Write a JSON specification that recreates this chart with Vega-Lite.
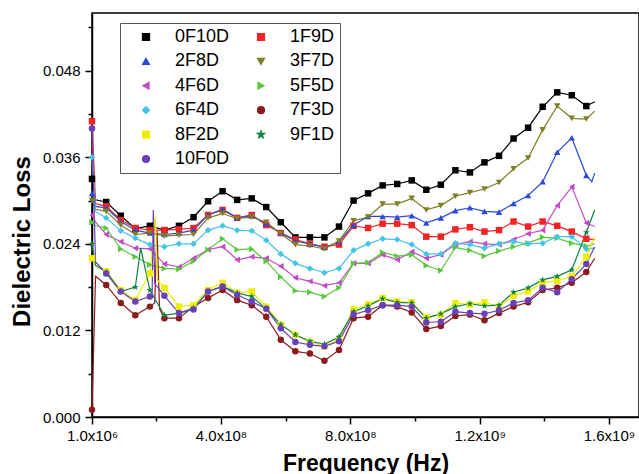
{
"$schema": "https://vega.github.io/schema/vega-lite/v6.json",
"width": 547, "height": 404,
"autosize": "none",
"padding": {"left": 92, "top": 13, "right": 0, "bottom": 57},
"background": "white",
"config": {
 "view": {"stroke": "black", "strokeWidth": 1.5},
 "axis": {"grid": false, "domainColor": "black", "tickColor": "black", "labelColor": "black", "titleColor": "black", "labelFont": "Liberation Sans", "titleFont": "Liberation Sans", "domainWidth": 1.5, "tickWidth": 1.5, "labelFlush": false, "labelOverlap": false},
 "legend": {"title": null, "orient": "none", "legendX": 28, "legendY": 10, "columns": 2, "direction": "horizontal", "padding": 5,
       "strokeColor": "#555555", "fillColor": "white", "symbolSize": 49, "symbolStrokeWidth": 1.2, "symbolOffset": 12,
       "labelOffset": 20, "labelFontSize": 18, "labelFont": "Liberation Sans", "labelColor": "black",
       "rowPadding": 6.4, "columnPadding": 10}
},
"data": {"values": [
{"s":"0F10D","f":1e6,"v":0.0330,"m":1},{"s":"0F10D","f":1.2e7,"v":0.0301,"m":0},{"s":"0F10D","f":4.5e7,"v":0.0298,"m":1},{"s":"0F10D","f":9e7,"v":0.0279,"m":1},{"s":"0F10D","f":1.35e8,"v":0.0261,"m":1},{"s":"0F10D","f":1.8e8,"v":0.0265,"m":1},{"s":"0F10D","f":2.25e8,"v":0.0259,"m":1},{"s":"0F10D","f":2.7e8,"v":0.0265,"m":1},{"s":"0F10D","f":3.15e8,"v":0.0277,"m":1},{"s":"0F10D","f":3.6e8,"v":0.0299,"m":1},{"s":"0F10D","f":4.05e8,"v":0.0313,"m":1},{"s":"0F10D","f":4.5e8,"v":0.0301,"m":1},{"s":"0F10D","f":4.95e8,"v":0.0303,"m":1},{"s":"0F10D","f":5.4e8,"v":0.0291,"m":1},{"s":"0F10D","f":5.85e8,"v":0.0270,"m":1},{"s":"0F10D","f":6.3e8,"v":0.0249,"m":1},{"s":"0F10D","f":6.75e8,"v":0.0249,"m":1},{"s":"0F10D","f":7.2e8,"v":0.0249,"m":1},{"s":"0F10D","f":7.65e8,"v":0.0264,"m":1},{"s":"0F10D","f":8.1e8,"v":0.0300,"m":1},{"s":"0F10D","f":8.55e8,"v":0.0310,"m":1},{"s":"0F10D","f":9e8,"v":0.0321,"m":1},{"s":"0F10D","f":9.45e8,"v":0.0323,"m":1},{"s":"0F10D","f":9.9e8,"v":0.0328,"m":1},{"s":"0F10D","f":1.035e9,"v":0.0315,"m":1},{"s":"0F10D","f":1.08e9,"v":0.0322,"m":1},{"s":"0F10D","f":1.125e9,"v":0.0342,"m":1},{"s":"0F10D","f":1.17e9,"v":0.0339,"m":1},{"s":"0F10D","f":1.215e9,"v":0.0353,"m":1},{"s":"0F10D","f":1.26e9,"v":0.0362,"m":1},{"s":"0F10D","f":1.305e9,"v":0.0386,"m":1},{"s":"0F10D","f":1.35e9,"v":0.0401,"m":1},{"s":"0F10D","f":1.395e9,"v":0.0430,"m":1},{"s":"0F10D","f":1.44e9,"v":0.0450,"m":1},{"s":"0F10D","f":1.485e9,"v":0.0446,"m":1},{"s":"0F10D","f":1.53e9,"v":0.0431,"m":1},{"s":"0F10D","f":1.556e9,"v":0.0437,"m":0},
{"s":"1F9D","f":1e6,"v":0.0410,"m":1},{"s":"1F9D","f":1.2e7,"v":0.0296,"m":0},{"s":"1F9D","f":4.5e7,"v":0.0292,"m":1},{"s":"1F9D","f":9e7,"v":0.0273,"m":1},{"s":"1F9D","f":1.35e8,"v":0.0262,"m":1},{"s":"1F9D","f":1.8e8,"v":0.0259,"m":1},{"s":"1F9D","f":2.25e8,"v":0.0259,"m":1},{"s":"1F9D","f":2.7e8,"v":0.0260,"m":1},{"s":"1F9D","f":3.15e8,"v":0.0262,"m":1},{"s":"1F9D","f":3.6e8,"v":0.0280,"m":1},{"s":"1F9D","f":4.05e8,"v":0.0287,"m":1},{"s":"1F9D","f":4.5e8,"v":0.0276,"m":1},{"s":"1F9D","f":4.95e8,"v":0.0280,"m":1},{"s":"1F9D","f":5.4e8,"v":0.0266,"m":1},{"s":"1F9D","f":5.85e8,"v":0.0255,"m":1},{"s":"1F9D","f":6.3e8,"v":0.0246,"m":1},{"s":"1F9D","f":6.75e8,"v":0.0240,"m":1},{"s":"1F9D","f":7.2e8,"v":0.0236,"m":1},{"s":"1F9D","f":7.65e8,"v":0.0239,"m":1},{"s":"1F9D","f":8.1e8,"v":0.0265,"m":1},{"s":"1F9D","f":8.55e8,"v":0.0262,"m":1},{"s":"1F9D","f":9e8,"v":0.0268,"m":1},{"s":"1F9D","f":9.45e8,"v":0.0268,"m":1},{"s":"1F9D","f":9.9e8,"v":0.0266,"m":1},{"s":"1F9D","f":1.035e9,"v":0.0250,"m":1},{"s":"1F9D","f":1.08e9,"v":0.0250,"m":1},{"s":"1F9D","f":1.125e9,"v":0.0260,"m":1},{"s":"1F9D","f":1.17e9,"v":0.0263,"m":1},{"s":"1F9D","f":1.215e9,"v":0.0257,"m":1},{"s":"1F9D","f":1.26e9,"v":0.0259,"m":1},{"s":"1F9D","f":1.305e9,"v":0.0271,"m":1},{"s":"1F9D","f":1.35e9,"v":0.0264,"m":1},{"s":"1F9D","f":1.395e9,"v":0.0271,"m":1},{"s":"1F9D","f":1.44e9,"v":0.0265,"m":1},{"s":"1F9D","f":1.485e9,"v":0.0257,"m":1},{"s":"1F9D","f":1.53e9,"v":0.0247,"m":1},{"s":"1F9D","f":1.556e9,"v":0.0246,"m":0},
{"s":"2F8D","f":1e6,"v":0.0310,"m":1},{"s":"2F8D","f":1.2e7,"v":0.0292,"m":0},{"s":"2F8D","f":4.5e7,"v":0.0290,"m":1},{"s":"2F8D","f":9e7,"v":0.0271,"m":1},{"s":"2F8D","f":1.35e8,"v":0.0259,"m":1},{"s":"2F8D","f":1.8e8,"v":0.0255,"m":1},{"s":"2F8D","f":2.25e8,"v":0.0253,"m":1},{"s":"2F8D","f":2.7e8,"v":0.0255,"m":1},{"s":"2F8D","f":3.15e8,"v":0.0259,"m":1},{"s":"2F8D","f":3.6e8,"v":0.0280,"m":1},{"s":"2F8D","f":4.05e8,"v":0.0288,"m":1},{"s":"2F8D","f":4.5e8,"v":0.0276,"m":1},{"s":"2F8D","f":4.95e8,"v":0.0279,"m":1},{"s":"2F8D","f":5.4e8,"v":0.0268,"m":1},{"s":"2F8D","f":5.85e8,"v":0.0255,"m":1},{"s":"2F8D","f":6.3e8,"v":0.0244,"m":1},{"s":"2F8D","f":6.75e8,"v":0.0240,"m":1},{"s":"2F8D","f":7.2e8,"v":0.0235,"m":1},{"s":"2F8D","f":7.65e8,"v":0.0243,"m":1},{"s":"2F8D","f":8.1e8,"v":0.0266,"m":1},{"s":"2F8D","f":8.55e8,"v":0.0278,"m":1},{"s":"2F8D","f":9e8,"v":0.0278,"m":1},{"s":"2F8D","f":9.45e8,"v":0.0277,"m":1},{"s":"2F8D","f":9.9e8,"v":0.0279,"m":1},{"s":"2F8D","f":1.035e9,"v":0.0269,"m":1},{"s":"2F8D","f":1.08e9,"v":0.0276,"m":1},{"s":"2F8D","f":1.125e9,"v":0.0286,"m":1},{"s":"2F8D","f":1.17e9,"v":0.0290,"m":1},{"s":"2F8D","f":1.215e9,"v":0.0285,"m":1},{"s":"2F8D","f":1.26e9,"v":0.0284,"m":1},{"s":"2F8D","f":1.305e9,"v":0.0296,"m":1},{"s":"2F8D","f":1.35e9,"v":0.0307,"m":1},{"s":"2F8D","f":1.395e9,"v":0.0326,"m":1},{"s":"2F8D","f":1.44e9,"v":0.0367,"m":1},{"s":"2F8D","f":1.485e9,"v":0.0387,"m":1},{"s":"2F8D","f":1.53e9,"v":0.0335,"m":1},{"s":"2F8D","f":1.547e9,"v":0.0326,"m":0},{"s":"2F8D","f":1.556e9,"v":0.0338,"m":0},
{"s":"3F7D","f":1e6,"v":0.0300,"m":1},{"s":"3F7D","f":1.2e7,"v":0.0288,"m":0},{"s":"3F7D","f":4.5e7,"v":0.0285,"m":1},{"s":"3F7D","f":9e7,"v":0.0266,"m":1},{"s":"3F7D","f":1.35e8,"v":0.0253,"m":1},{"s":"3F7D","f":1.8e8,"v":0.0255,"m":1},{"s":"3F7D","f":2.25e8,"v":0.0251,"m":1},{"s":"3F7D","f":2.7e8,"v":0.0252,"m":1},{"s":"3F7D","f":3.15e8,"v":0.0253,"m":1},{"s":"3F7D","f":3.6e8,"v":0.0276,"m":1},{"s":"3F7D","f":4.05e8,"v":0.0282,"m":1},{"s":"3F7D","f":4.5e8,"v":0.0275,"m":1},{"s":"3F7D","f":4.95e8,"v":0.0277,"m":1},{"s":"3F7D","f":5.4e8,"v":0.0270,"m":1},{"s":"3F7D","f":5.85e8,"v":0.0254,"m":1},{"s":"3F7D","f":6.3e8,"v":0.0239,"m":1},{"s":"3F7D","f":6.75e8,"v":0.0237,"m":1},{"s":"3F7D","f":7.2e8,"v":0.0233,"m":1},{"s":"3F7D","f":7.65e8,"v":0.0244,"m":1},{"s":"3F7D","f":8.1e8,"v":0.0272,"m":1},{"s":"3F7D","f":8.55e8,"v":0.0277,"m":1},{"s":"3F7D","f":9e8,"v":0.0295,"m":1},{"s":"3F7D","f":9.45e8,"v":0.0295,"m":1},{"s":"3F7D","f":9.9e8,"v":0.0303,"m":1},{"s":"3F7D","f":1.035e9,"v":0.0287,"m":1},{"s":"3F7D","f":1.08e9,"v":0.0293,"m":1},{"s":"3F7D","f":1.125e9,"v":0.0306,"m":1},{"s":"3F7D","f":1.17e9,"v":0.0311,"m":1},{"s":"3F7D","f":1.215e9,"v":0.0316,"m":1},{"s":"3F7D","f":1.26e9,"v":0.0325,"m":1},{"s":"3F7D","f":1.305e9,"v":0.0344,"m":1},{"s":"3F7D","f":1.35e9,"v":0.0359,"m":1},{"s":"3F7D","f":1.395e9,"v":0.0398,"m":1},{"s":"3F7D","f":1.44e9,"v":0.0431,"m":1},{"s":"3F7D","f":1.485e9,"v":0.0414,"m":1},{"s":"3F7D","f":1.53e9,"v":0.0413,"m":1},{"s":"3F7D","f":1.556e9,"v":0.0424,"m":0},
{"s":"4F6D","f":1e6,"v":0.0280,"m":1},{"s":"4F6D","f":1.2e7,"v":0.0270,"m":0},{"s":"4F6D","f":4.5e7,"v":0.0253,"m":1},{"s":"4F6D","f":9e7,"v":0.0243,"m":1},{"s":"4F6D","f":1.35e8,"v":0.0234,"m":1},{"s":"4F6D","f":1.8e8,"v":0.0233,"m":1},{"s":"4F6D","f":2.25e8,"v":0.0212,"m":1},{"s":"4F6D","f":2.7e8,"v":0.0208,"m":1},{"s":"4F6D","f":3.15e8,"v":0.0220,"m":1},{"s":"4F6D","f":3.6e8,"v":0.0232,"m":1},{"s":"4F6D","f":4.05e8,"v":0.0236,"m":1},{"s":"4F6D","f":4.5e8,"v":0.0218,"m":1},{"s":"4F6D","f":4.95e8,"v":0.0222,"m":1},{"s":"4F6D","f":5.4e8,"v":0.0220,"m":1},{"s":"4F6D","f":5.85e8,"v":0.0209,"m":1},{"s":"4F6D","f":6.3e8,"v":0.0193,"m":1},{"s":"4F6D","f":6.75e8,"v":0.0188,"m":1},{"s":"4F6D","f":7.2e8,"v":0.0182,"m":1},{"s":"4F6D","f":7.65e8,"v":0.0186,"m":1},{"s":"4F6D","f":8.1e8,"v":0.0213,"m":1},{"s":"4F6D","f":8.55e8,"v":0.0213,"m":1},{"s":"4F6D","f":9e8,"v":0.0225,"m":1},{"s":"4F6D","f":9.45e8,"v":0.0218,"m":1},{"s":"4F6D","f":9.9e8,"v":0.0229,"m":1},{"s":"4F6D","f":1.035e9,"v":0.0220,"m":1},{"s":"4F6D","f":1.08e9,"v":0.0225,"m":1},{"s":"4F6D","f":1.125e9,"v":0.0239,"m":1},{"s":"4F6D","f":1.17e9,"v":0.0243,"m":1},{"s":"4F6D","f":1.215e9,"v":0.0240,"m":1},{"s":"4F6D","f":1.26e9,"v":0.0239,"m":1},{"s":"4F6D","f":1.305e9,"v":0.0246,"m":1},{"s":"4F6D","f":1.35e9,"v":0.0254,"m":1},{"s":"4F6D","f":1.395e9,"v":0.0259,"m":1},{"s":"4F6D","f":1.44e9,"v":0.0293,"m":1},{"s":"4F6D","f":1.485e9,"v":0.0319,"m":1},{"s":"4F6D","f":1.53e9,"v":0.0269,"m":1},{"s":"4F6D","f":1.556e9,"v":0.0264,"m":0},
{"s":"5F5D","f":1e6,"v":0.0270,"m":1},{"s":"5F5D","f":1.2e7,"v":0.0265,"m":0},{"s":"5F5D","f":4.5e7,"v":0.0262,"m":1},{"s":"5F5D","f":9e7,"v":0.0233,"m":1},{"s":"5F5D","f":1.35e8,"v":0.0222,"m":1},{"s":"5F5D","f":1.8e8,"v":0.0211,"m":1},{"s":"5F5D","f":2.25e8,"v":0.0206,"m":1},{"s":"5F5D","f":2.7e8,"v":0.0205,"m":1},{"s":"5F5D","f":3.15e8,"v":0.0216,"m":1},{"s":"5F5D","f":3.6e8,"v":0.0232,"m":1},{"s":"5F5D","f":4.05e8,"v":0.0247,"m":1},{"s":"5F5D","f":4.5e8,"v":0.0232,"m":1},{"s":"5F5D","f":4.95e8,"v":0.0233,"m":1},{"s":"5F5D","f":5.4e8,"v":0.0216,"m":1},{"s":"5F5D","f":5.85e8,"v":0.0194,"m":1},{"s":"5F5D","f":6.3e8,"v":0.0175,"m":1},{"s":"5F5D","f":6.75e8,"v":0.0173,"m":1},{"s":"5F5D","f":7.2e8,"v":0.0167,"m":1},{"s":"5F5D","f":7.65e8,"v":0.0179,"m":1},{"s":"5F5D","f":8.1e8,"v":0.0213,"m":1},{"s":"5F5D","f":8.55e8,"v":0.0214,"m":1},{"s":"5F5D","f":9e8,"v":0.0228,"m":1},{"s":"5F5D","f":9.45e8,"v":0.0223,"m":1},{"s":"5F5D","f":9.9e8,"v":0.0225,"m":1},{"s":"5F5D","f":1.035e9,"v":0.0210,"m":1},{"s":"5F5D","f":1.08e9,"v":0.0203,"m":1},{"s":"5F5D","f":1.125e9,"v":0.0235,"m":1},{"s":"5F5D","f":1.17e9,"v":0.0231,"m":1},{"s":"5F5D","f":1.215e9,"v":0.0223,"m":1},{"s":"5F5D","f":1.26e9,"v":0.0230,"m":1},{"s":"5F5D","f":1.305e9,"v":0.0236,"m":1},{"s":"5F5D","f":1.35e9,"v":0.0241,"m":1},{"s":"5F5D","f":1.395e9,"v":0.0249,"m":1},{"s":"5F5D","f":1.44e9,"v":0.0248,"m":1},{"s":"5F5D","f":1.485e9,"v":0.0241,"m":1},{"s":"5F5D","f":1.53e9,"v":0.0237,"m":1},{"s":"5F5D","f":1.556e9,"v":0.0240,"m":0},
{"s":"6F4D","f":1e6,"v":0.0360,"m":1},{"s":"6F4D","f":1.2e7,"v":0.0285,"m":0},{"s":"6F4D","f":4.5e7,"v":0.0276,"m":1},{"s":"6F4D","f":9e7,"v":0.0258,"m":1},{"s":"6F4D","f":1.35e8,"v":0.0248,"m":1},{"s":"6F4D","f":1.8e8,"v":0.0239,"m":1},{"s":"6F4D","f":2.25e8,"v":0.0236,"m":1},{"s":"6F4D","f":2.7e8,"v":0.0240,"m":1},{"s":"6F4D","f":3.15e8,"v":0.0240,"m":1},{"s":"6F4D","f":3.6e8,"v":0.0259,"m":1},{"s":"6F4D","f":4.05e8,"v":0.0265,"m":1},{"s":"6F4D","f":4.5e8,"v":0.0259,"m":1},{"s":"6F4D","f":4.95e8,"v":0.0258,"m":1},{"s":"6F4D","f":5.4e8,"v":0.0245,"m":1},{"s":"6F4D","f":5.85e8,"v":0.0226,"m":1},{"s":"6F4D","f":6.3e8,"v":0.0213,"m":1},{"s":"6F4D","f":6.75e8,"v":0.0206,"m":1},{"s":"6F4D","f":7.2e8,"v":0.0200,"m":1},{"s":"6F4D","f":7.65e8,"v":0.0206,"m":1},{"s":"6F4D","f":8.1e8,"v":0.0231,"m":1},{"s":"6F4D","f":8.55e8,"v":0.0240,"m":1},{"s":"6F4D","f":9e8,"v":0.0247,"m":1},{"s":"6F4D","f":9.45e8,"v":0.0246,"m":1},{"s":"6F4D","f":9.9e8,"v":0.0239,"m":1},{"s":"6F4D","f":1.035e9,"v":0.0226,"m":1},{"s":"6F4D","f":1.08e9,"v":0.0226,"m":1},{"s":"6F4D","f":1.125e9,"v":0.0241,"m":1},{"s":"6F4D","f":1.17e9,"v":0.0239,"m":1},{"s":"6F4D","f":1.215e9,"v":0.0234,"m":1},{"s":"6F4D","f":1.26e9,"v":0.0240,"m":1},{"s":"6F4D","f":1.305e9,"v":0.0243,"m":1},{"s":"6F4D","f":1.35e9,"v":0.0240,"m":1},{"s":"6F4D","f":1.395e9,"v":0.0241,"m":1},{"s":"6F4D","f":1.44e9,"v":0.0250,"m":1},{"s":"6F4D","f":1.485e9,"v":0.0250,"m":1},{"s":"6F4D","f":1.53e9,"v":0.0233,"m":1},{"s":"6F4D","f":1.556e9,"v":0.0234,"m":0},
{"s":"7F3D","f":1e6,"v":0.0010,"m":1},{"s":"7F3D","f":1.2e7,"v":0.0195,"m":0},{"s":"7F3D","f":4.5e7,"v":0.0183,"m":1},{"s":"7F3D","f":9e7,"v":0.0158,"m":1},{"s":"7F3D","f":1.35e8,"v":0.0141,"m":1},{"s":"7F3D","f":1.8e8,"v":0.0153,"m":1},{"s":"7F3D","f":1.95e8,"v":0.0158,"m":0},{"s":"7F3D","f":2.02e8,"v":0.0259,"m":0},{"s":"7F3D","f":2.1e8,"v":0.0150,"m":0},{"s":"7F3D","f":2.25e8,"v":0.0137,"m":1},{"s":"7F3D","f":2.7e8,"v":0.0137,"m":1},{"s":"7F3D","f":3.15e8,"v":0.0153,"m":1},{"s":"7F3D","f":3.6e8,"v":0.0165,"m":1},{"s":"7F3D","f":4.05e8,"v":0.0176,"m":1},{"s":"7F3D","f":4.5e8,"v":0.0162,"m":1},{"s":"7F3D","f":4.95e8,"v":0.0155,"m":1},{"s":"7F3D","f":5.4e8,"v":0.0139,"m":1},{"s":"7F3D","f":5.85e8,"v":0.0107,"m":1},{"s":"7F3D","f":6.3e8,"v":0.0091,"m":1},{"s":"7F3D","f":6.75e8,"v":0.0088,"m":1},{"s":"7F3D","f":7.2e8,"v":0.0078,"m":1},{"s":"7F3D","f":7.65e8,"v":0.0093,"m":1},{"s":"7F3D","f":8.1e8,"v":0.0137,"m":1},{"s":"7F3D","f":8.55e8,"v":0.0139,"m":1},{"s":"7F3D","f":9e8,"v":0.0155,"m":1},{"s":"7F3D","f":9.45e8,"v":0.0153,"m":1},{"s":"7F3D","f":9.9e8,"v":0.0145,"m":1},{"s":"7F3D","f":1.035e9,"v":0.0122,"m":1},{"s":"7F3D","f":1.08e9,"v":0.0126,"m":1},{"s":"7F3D","f":1.125e9,"v":0.0140,"m":1},{"s":"7F3D","f":1.17e9,"v":0.0142,"m":1},{"s":"7F3D","f":1.215e9,"v":0.0134,"m":1},{"s":"7F3D","f":1.26e9,"v":0.0144,"m":1},{"s":"7F3D","f":1.305e9,"v":0.0153,"m":1},{"s":"7F3D","f":1.35e9,"v":0.0159,"m":1},{"s":"7F3D","f":1.395e9,"v":0.0176,"m":1},{"s":"7F3D","f":1.44e9,"v":0.0179,"m":1},{"s":"7F3D","f":1.485e9,"v":0.0186,"m":1},{"s":"7F3D","f":1.53e9,"v":0.0201,"m":1},{"s":"7F3D","f":1.556e9,"v":0.0220,"m":0},
{"s":"8F2D","f":1e6,"v":0.0220,"m":1},{"s":"8F2D","f":1.2e7,"v":0.0210,"m":0},{"s":"8F2D","f":4.5e7,"v":0.0202,"m":1},{"s":"8F2D","f":9e7,"v":0.0176,"m":1},{"s":"8F2D","f":1.35e8,"v":0.0162,"m":1},{"s":"8F2D","f":1.8e8,"v":0.0199,"m":1},{"s":"8F2D","f":1.97e8,"v":0.0278,"m":0},{"s":"8F2D","f":2.03e8,"v":0.0190,"m":0},{"s":"8F2D","f":2.25e8,"v":0.0179,"m":1},{"s":"8F2D","f":2.7e8,"v":0.0153,"m":1},{"s":"8F2D","f":3.15e8,"v":0.0155,"m":1},{"s":"8F2D","f":3.6e8,"v":0.0176,"m":1},{"s":"8F2D","f":4.05e8,"v":0.0186,"m":1},{"s":"8F2D","f":4.5e8,"v":0.0172,"m":1},{"s":"8F2D","f":4.95e8,"v":0.0174,"m":1},{"s":"8F2D","f":5.4e8,"v":0.0153,"m":1},{"s":"8F2D","f":5.85e8,"v":0.0128,"m":1},{"s":"8F2D","f":6.3e8,"v":0.0114,"m":1},{"s":"8F2D","f":6.75e8,"v":0.0104,"m":1},{"s":"8F2D","f":7.2e8,"v":0.0098,"m":1},{"s":"8F2D","f":7.65e8,"v":0.0108,"m":1},{"s":"8F2D","f":8.1e8,"v":0.0149,"m":1},{"s":"8F2D","f":8.55e8,"v":0.0156,"m":1},{"s":"8F2D","f":9e8,"v":0.0165,"m":1},{"s":"8F2D","f":9.45e8,"v":0.0160,"m":1},{"s":"8F2D","f":9.9e8,"v":0.0159,"m":1},{"s":"8F2D","f":1.035e9,"v":0.0138,"m":1},{"s":"8F2D","f":1.08e9,"v":0.0142,"m":1},{"s":"8F2D","f":1.125e9,"v":0.0158,"m":1},{"s":"8F2D","f":1.17e9,"v":0.0156,"m":1},{"s":"8F2D","f":1.215e9,"v":0.0159,"m":1},{"s":"8F2D","f":1.26e9,"v":0.0153,"m":1},{"s":"8F2D","f":1.305e9,"v":0.0168,"m":1},{"s":"8F2D","f":1.35e9,"v":0.0174,"m":1},{"s":"8F2D","f":1.395e9,"v":0.0186,"m":1},{"s":"8F2D","f":1.44e9,"v":0.0189,"m":1},{"s":"8F2D","f":1.485e9,"v":0.0195,"m":1},{"s":"8F2D","f":1.53e9,"v":0.0222,"m":1},{"s":"8F2D","f":1.556e9,"v":0.0250,"m":0},
{"s":"9F1D","f":1e6,"v":0.0240,"m":1},{"s":"9F1D","f":1.2e7,"v":0.0210,"m":0},{"s":"9F1D","f":4.5e7,"v":0.0201,"m":1},{"s":"9F1D","f":9e7,"v":0.0174,"m":1},{"s":"9F1D","f":1.35e8,"v":0.0180,"m":1},{"s":"9F1D","f":1.516e8,"v":0.0234,"m":0},{"s":"9F1D","f":1.8e8,"v":0.0176,"m":1},{"s":"9F1D","f":2.25e8,"v":0.0141,"m":1},{"s":"9F1D","f":2.7e8,"v":0.0144,"m":1},{"s":"9F1D","f":3.15e8,"v":0.0151,"m":1},{"s":"9F1D","f":3.6e8,"v":0.0174,"m":1},{"s":"9F1D","f":4.05e8,"v":0.0181,"m":1},{"s":"9F1D","f":4.5e8,"v":0.0172,"m":1},{"s":"9F1D","f":4.95e8,"v":0.0167,"m":1},{"s":"9F1D","f":5.4e8,"v":0.0150,"m":1},{"s":"9F1D","f":5.85e8,"v":0.0128,"m":1},{"s":"9F1D","f":6.3e8,"v":0.0114,"m":1},{"s":"9F1D","f":6.75e8,"v":0.0105,"m":1},{"s":"9F1D","f":7.2e8,"v":0.0101,"m":1},{"s":"9F1D","f":7.65e8,"v":0.0111,"m":1},{"s":"9F1D","f":8.1e8,"v":0.0146,"m":1},{"s":"9F1D","f":8.55e8,"v":0.0154,"m":1},{"s":"9F1D","f":9e8,"v":0.0164,"m":1},{"s":"9F1D","f":9.45e8,"v":0.0159,"m":1},{"s":"9F1D","f":9.9e8,"v":0.0158,"m":1},{"s":"9F1D","f":1.035e9,"v":0.0137,"m":1},{"s":"9F1D","f":1.08e9,"v":0.0143,"m":1},{"s":"9F1D","f":1.125e9,"v":0.0153,"m":1},{"s":"9F1D","f":1.17e9,"v":0.0157,"m":1},{"s":"9F1D","f":1.215e9,"v":0.0154,"m":1},{"s":"9F1D","f":1.26e9,"v":0.0155,"m":1},{"s":"9F1D","f":1.305e9,"v":0.0173,"m":1},{"s":"9F1D","f":1.35e9,"v":0.0179,"m":1},{"s":"9F1D","f":1.395e9,"v":0.0190,"m":1},{"s":"9F1D","f":1.44e9,"v":0.0195,"m":1},{"s":"9F1D","f":1.485e9,"v":0.0204,"m":1},{"s":"9F1D","f":1.53e9,"v":0.0256,"m":1},{"s":"9F1D","f":1.556e9,"v":0.0287,"m":0},
{"s":"10F0D","f":1e6,"v":0.0400,"m":1},{"s":"10F0D","f":1.2e7,"v":0.0215,"m":0},{"s":"10F0D","f":4.5e7,"v":0.0199,"m":1},{"s":"10F0D","f":9e7,"v":0.0174,"m":1},{"s":"10F0D","f":1.35e8,"v":0.0160,"m":1},{"s":"10F0D","f":1.8e8,"v":0.0167,"m":1},{"s":"10F0D","f":1.87e8,"v":0.0168,"m":0},{"s":"10F0D","f":1.906e8,"v":0.0287,"m":0},{"s":"10F0D","f":1.95e8,"v":0.0185,"m":0},{"s":"10F0D","f":2.25e8,"v":0.0168,"m":1},{"s":"10F0D","f":2.7e8,"v":0.0144,"m":1},{"s":"10F0D","f":3.15e8,"v":0.0149,"m":1},{"s":"10F0D","f":3.6e8,"v":0.0174,"m":1},{"s":"10F0D","f":4.05e8,"v":0.0181,"m":1},{"s":"10F0D","f":4.5e8,"v":0.0169,"m":1},{"s":"10F0D","f":4.95e8,"v":0.0160,"m":1},{"s":"10F0D","f":5.4e8,"v":0.0150,"m":1},{"s":"10F0D","f":5.85e8,"v":0.0123,"m":1},{"s":"10F0D","f":6.3e8,"v":0.0104,"m":1},{"s":"10F0D","f":6.75e8,"v":0.0100,"m":1},{"s":"10F0D","f":7.2e8,"v":0.0098,"m":1},{"s":"10F0D","f":7.65e8,"v":0.0105,"m":1},{"s":"10F0D","f":8.1e8,"v":0.0142,"m":1},{"s":"10F0D","f":8.55e8,"v":0.0148,"m":1},{"s":"10F0D","f":9e8,"v":0.0155,"m":1},{"s":"10F0D","f":9.45e8,"v":0.0155,"m":1},{"s":"10F0D","f":9.9e8,"v":0.0153,"m":1},{"s":"10F0D","f":1.035e9,"v":0.0131,"m":1},{"s":"10F0D","f":1.08e9,"v":0.0132,"m":1},{"s":"10F0D","f":1.125e9,"v":0.0146,"m":1},{"s":"10F0D","f":1.17e9,"v":0.0144,"m":1},{"s":"10F0D","f":1.215e9,"v":0.0143,"m":1},{"s":"10F0D","f":1.26e9,"v":0.0148,"m":1},{"s":"10F0D","f":1.305e9,"v":0.0158,"m":1},{"s":"10F0D","f":1.35e9,"v":0.0162,"m":1},{"s":"10F0D","f":1.395e9,"v":0.0179,"m":1},{"s":"10F0D","f":1.44e9,"v":0.0173,"m":1},{"s":"10F0D","f":1.485e9,"v":0.0191,"m":1},{"s":"10F0D","f":1.53e9,"v":0.0212,"m":1},{"s":"10F0D","f":1.556e9,"v":0.0236,"m":0}
]},
"layer": [
 {"mark": {"type": "line", "strokeWidth": 1.2},
  "encoding": {
   "x": {"field": "f", "type": "quantitative", "scale": {"domain": [1e6, 1.693e9], "nice": false, "zero": false},
     "axis": {"orient": "bottom", "values": [1e6, 4e8, 8e8, 1.2e9, 1.6e9], "labelExpr": "datum.value < 1e7 ? '1.0x10⁶' : datum.value < 1e9 ? format(datum.value/1e8, '.1f') + 'x10⁸' : format(datum.value/1e9, '.1f') + 'x10⁹'", "labelFontSize": 15, "tickSize": 7, "labelPadding": 4, "title": "Frequency (Hz)", "titleFontSize": 23, "titleFontWeight": "bold", "titlePadding": 9}},
   "y": {"field": "v", "type": "quantitative", "scale": {"domain": [0, 0.056], "nice": false},
     "axis": {"orient": "left", "values": [0, 0.012, 0.024, 0.036, 0.048], "format": ".3f", "labelFontSize": 15, "tickSize": 7, "labelPadding": 5, "title": "Dielectric Loss", "titleFontSize": 24, "titleFontWeight": "bold", "titlePadding": 8, "titleY": 228}},
   "color": {"field": "s", "type": "nominal",
     "scale": {"domain": ["0F10D","1F9D","2F8D","3F7D","4F6D","5F5D","6F4D","7F3D","8F2D","9F1D","10F0D"],
               "range": ["#000000","#f02424","#2a4ad8","#7f7f22","#c24cc4","#58c83c","#44c4e6","#8b1c1c","#eeee00","#0c8444","#6a40b8"]},
     "legend": {}}
  }},
 {"transform": [{"filter": "datum.m == 1"}],
  "mark": {"type": "point", "filled": true, "size": 42, "opacity": 1, "strokeWidth": 0.6},
  "encoding": {
   "x": {"field": "f", "type": "quantitative",
     "axis": {"orient": "bottom", "values": [2e8, 6e8, 1e9, 1.4e9], "labels": false, "domain": false, "title": null, "tickSize": 4}},
   "y": {"field": "v", "type": "quantitative",
     "axis": {"orient": "left", "values": [0.006, 0.018, 0.030, 0.042, 0.054], "labels": false, "domain": false, "title": null, "tickSize": 4}},
   "color": {"field": "s", "type": "nominal"},
   "shape": {"field": "s", "type": "nominal",
     "scale": {"domain": ["0F10D","1F9D","2F8D","3F7D","4F6D","5F5D","6F4D","7F3D","8F2D","9F1D","10F0D"],
               "range": ["square","square","triangle-up","triangle-down","triangle-left","triangle-right","diamond","circle","square","M0,-1.1L0.26,-0.36L1.05,-0.34L0.42,0.14L0.65,0.89L0,0.45L-0.65,0.89L-0.42,0.14L-1.05,-0.34L-0.26,-0.36Z","circle"]},
     "legend": null}
  }}
],
"resolve": {"axis": {"x": "independent", "y": "independent"}}
}
